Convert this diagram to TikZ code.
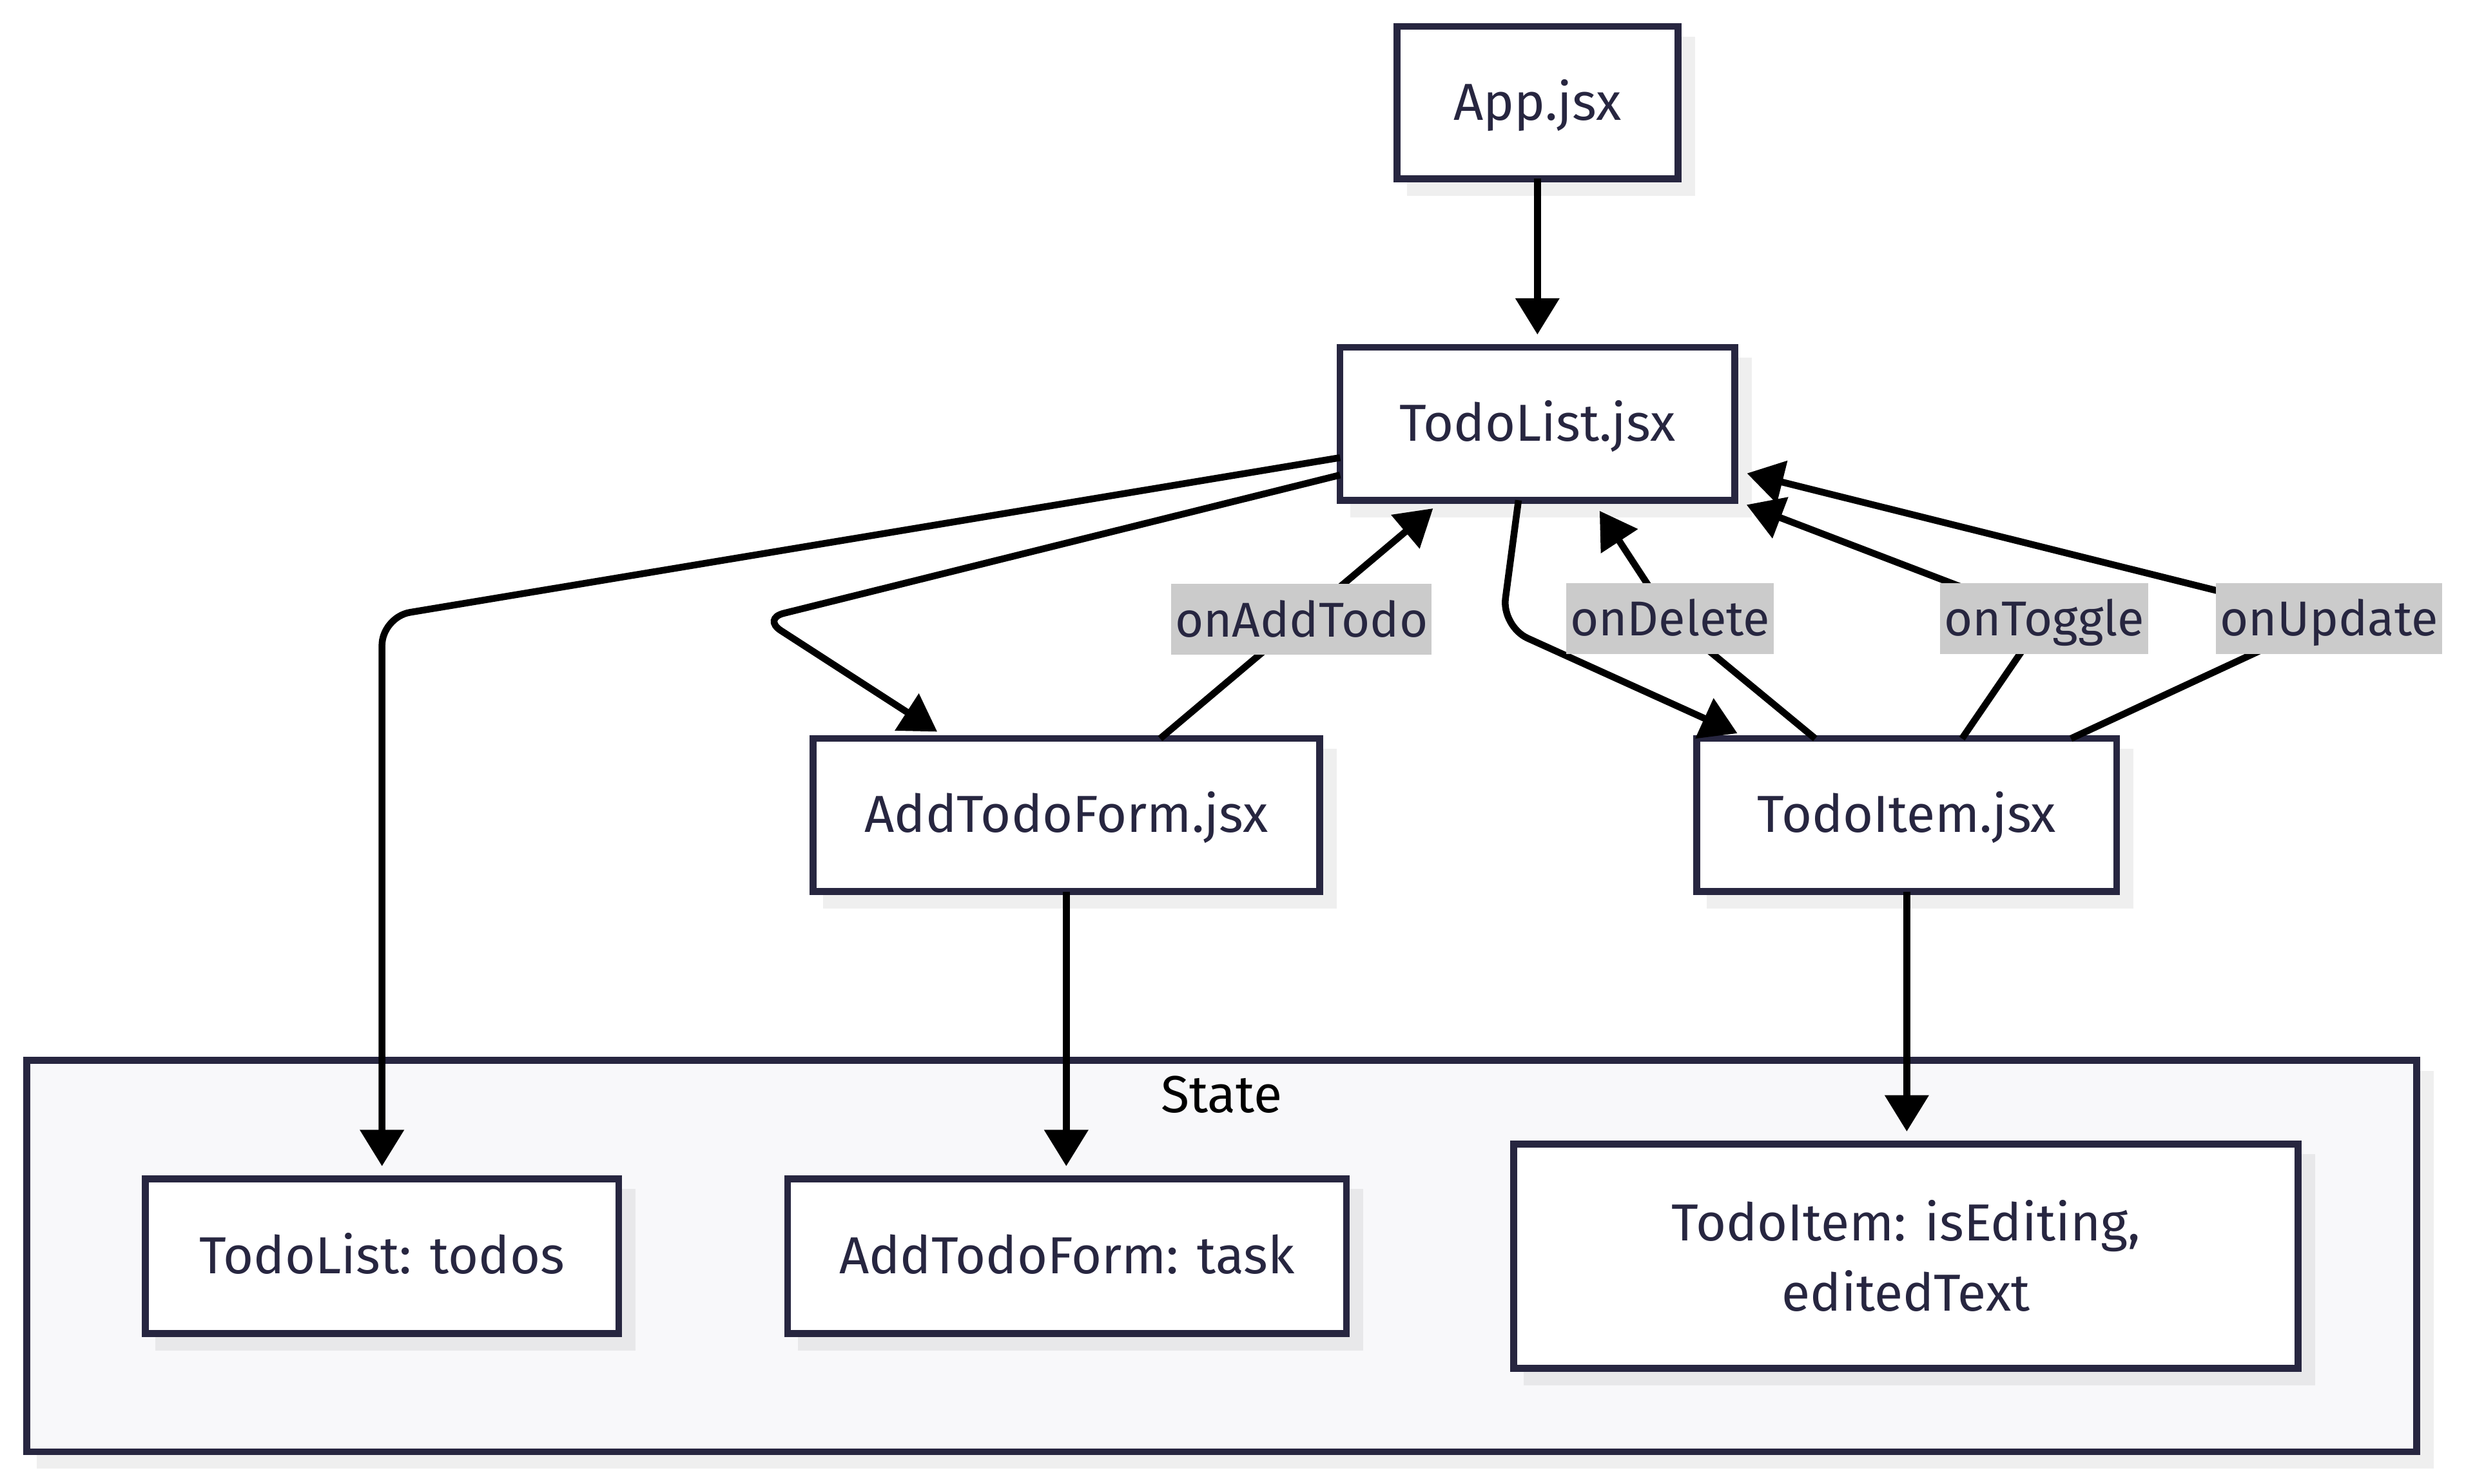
\documentclass[tikz,border=0pt]{standalone}
\usepackage{fontspec}
\setmainfont{Fira Sans}
\usetikzlibrary{arrows.meta,calc}
\definecolor{navy}{RGB}{39,38,64}
\definecolor{lblgray}{RGB}{203,203,203}
\definecolor{clfill}{RGB}{248,248,250}
\pgfdeclarelayer{bg}
\pgfdeclarelayer{shad}
\pgfsetlayers{bg,shad,main}
\begin{document}
\begin{tikzpicture}[x=1pt,y=-1pt,
  comp/.style={draw=navy,line width=4.3pt,fill=white,inner sep=0pt,outer sep=0pt,
    text=navy,font=\fontsize{33}{44.5}\selectfont,text height=26pt,text depth=4pt},
  multi/.style={draw=navy,line width=4.3pt,fill=white,inner sep=0pt,outer sep=0pt,
    text=navy,font=\fontsize{33}{44.5}\selectfont,align=center},
  lbl/.style={fill=lblgray,text=navy,font=\fontsize{31}{36}\selectfont,
    inner xsep=2.5pt,inner ysep=6.5pt,text height=27pt,text depth=5pt,outer sep=0pt},
  conn/.style={draw=black,line width=4.3pt,-{Triangle[length=23pt,width=27pt]},shorten >=8pt},
  shadowfill/.style={fill=black,fill opacity=0.063},
]
\useasboundingbox (0,0) rectangle (1568,940);

% cluster
\begin{pgfonlayer}{bg}
  \fill[shadowfill] (23.45,678.45) rectangle (1541.75,930.75);
  \node[draw=navy,line width=4.3pt,fill=clfill,inner sep=0pt,outer sep=0pt,
        minimum width=1514pt,minimum height=248pt] (state) at (774,796) {};
\end{pgfonlayer}
\node[text=black,font=\fontsize{33}{40}\selectfont,inner sep=0pt,text height=24pt,text depth=2pt] (stateLbl) at (774,694) {State};

% components
\node[comp,minimum width=178pt,minimum height=96.5pt] (app) at (974,65) {App.jsx};
\node[comp,minimum width=250pt,minimum height=97pt] (todolist) at (974,268.5) {TodoList.jsx};
\node[comp,minimum width=321pt,minimum height=97pt] (addform) at (675.5,516.5) {AddTodoForm.jsx};
\node[comp,minimum width=266pt,minimum height=97pt] (todoitem) at (1208,516.5) {TodoItem.jsx};

% state nodes
\node[comp,minimum width=300pt,minimum height=98pt] (stTodos) at (242,796) {TodoList: todos};
\node[comp,minimum width=354pt,minimum height=98pt] (stForm) at (676,796) {AddTodoForm: task};
\node[multi,minimum width=497pt,minimum height=142pt] (stItem) at (1207.5,796) {TodoItem: isEditing,\\editedText};

% shadows
\begin{pgfonlayer}{shad}
  \foreach \n in {app,todolist,addform,todoitem,stTodos,stForm,stItem}
    \fill[shadowfill] ($(\n.north west)+(6.45,6.45)$) rectangle ($(\n.south east)+(10.75,10.75)$);
\end{pgfonlayer}

% connectors
\draw[conn] (app.south) -- (todolist.north);
\draw[conn,rounded corners=18pt] ([yshift=-21.5pt]todolist.west) -- (242,391) -- (stTodos.north);
\draw[conn,rounded corners=14pt] ([yshift=-32.5pt]todolist.west) -- (483,392) -- ([xshift=-75pt]addform.north);
\draw[conn] ([xshift=59.5pt]addform.north) -- node[lbl]{onAddTodo} ([xshift=-60pt]todolist.south);
\draw[conn,rounded corners=18pt] ([xshift=-12pt]todolist.south) -- (951.4,397) -- ([xshift=-100pt]todoitem.north);
\draw[conn] ([xshift=-58pt]todoitem.north) -- node[lbl,pos=1]{onDelete} (1058,392) -- ([xshift=35pt]todolist.south);
\draw[conn] ([xshift=35pt]todoitem.north) -- node[lbl,pos=1]{onToggle} (1295,392) -- (todolist.south east);
\draw[conn] ([xshift=104pt]todoitem.north) -- node[lbl,pos=1]{onUpdate} (1475.5,392) -- ([yshift=-29.5pt]todolist.east);
\draw[conn] (addform.south) -- (addform.south |- stForm.north);
\draw[conn] (todoitem.south) -- (todoitem.south |- stItem.north);
\end{tikzpicture}
\end{document}
